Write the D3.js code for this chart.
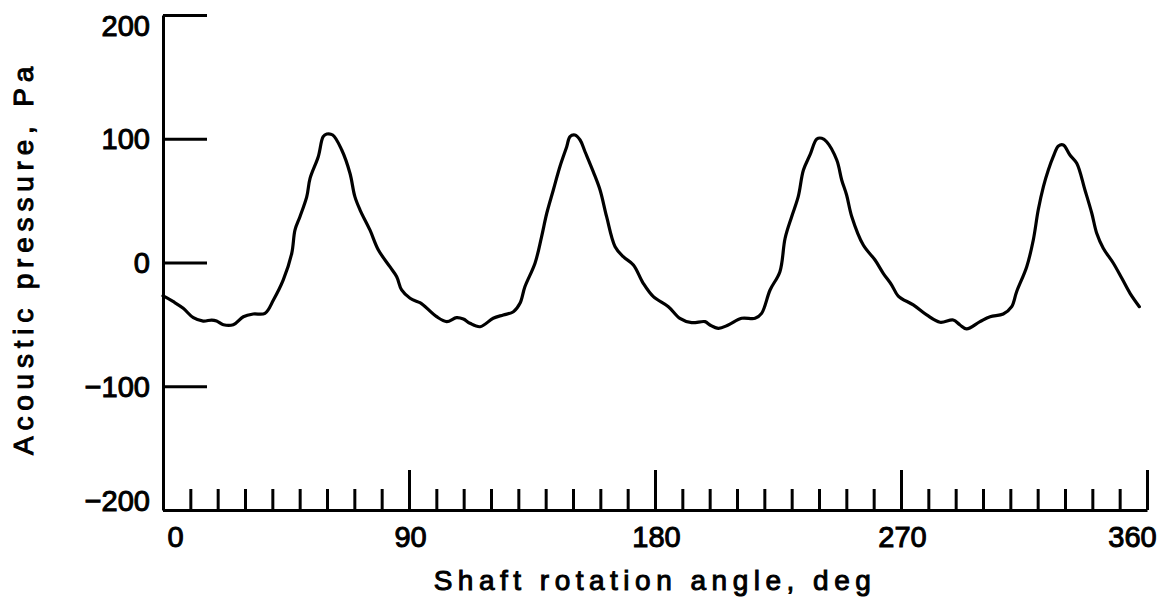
<!DOCTYPE html>
<html>
<head>
<meta charset="utf-8">
<script src="https://cdn.jsdelivr.net/npm/d3@7"></script>
<style>
    body { margin: 0; background: #fff; }
    svg { display: block; }
    .axis path, .axis line { stroke: #000; stroke-width: 3; }
    .axis text, .title { font-family: "Liberation Sans", Arial, sans-serif; fill: #000; stroke: #000; stroke-width: 1; }
</style>
</head>
<body>
<script>
// shaft angle (deg) and acoustic pressure (Pa)
var angle = [0, 0.6, 3.8, 7.4, 11.1, 14.7, 17.8, 19.6, 22.1, 25.7, 29.4, 33.0, 37.3, 40.4, 44.0, 47.1, 48.3, 50.1, 52.6, 53.8, 56.8, 58.6, 59.9, 62.1, 65.4, 68.4, 70.2, 72.1, 75.7, 78.8, 83.0, 85.5, 87.3, 90.4, 94.0,
    95.2, 100.1, 103.8, 107.4, 109.9, 112.3, 116.0, 120.8, 124.5, 128.2, 130.6, 132.4, 136.1, 138.5, 140.4, 142.8, 145.2, 147.7, 148.9, 150.7, 152.6, 154.4, 157.4, 159.9, 162.3, 165.4, 168.4, 172.1, 175.7, 179.4, 184.9,
    189.1, 193.4, 198.3, 200.1, 203.2, 206.8, 211.7, 216.6, 219.0, 222.1, 225.7, 227.6, 230.0, 232.4, 234.3, 236.7, 239.2, 241.0, 242.8, 246.5, 248.3, 250.1, 252.0, 256.2, 260.5, 263.5, 266.6, 269.0, 274.5,
    279.4, 284.3, 289.1, 291.6, 294.0, 298.9, 302.6, 307.4, 310.5, 312.3, 316.0, 318.4, 320.2, 322.1, 323.9, 325.7, 327.6, 329.4, 331.8, 334.3, 337.3, 339.8, 341.6, 344.0, 347.7, 350.8, 353.8, 357.2];
var pressure = [-27, -27.6, -31.7, -37.0, -44.6, -47.3, -46.5, -47.3, -50.3, -50.3, -43.8, -41.6, -41.1, -30.3, -14.1, 7.4, 26.3, 37.0, 53.2, 68.0, 85.5, 101.7, 103.8, 103.0, 90.9, 72.1, 53.2, 42.4, 26.3, 10.1, -3.4, -11.5, -22.2, -28.9, -32.5,
    -34.3, -43.8, -47.8, -44.6, -45.7, -49.1, -51.9, -45.1, -42.4, -39.8, -33.0, -19.6, -0.6, 20.8, 39.8, 58.6, 77.4, 93.6, 101.7, 103.0, 99.0, 89.5, 73.4, 58.6, 37.0, 12.8, 4.7, -2.0, -16.8, -27.6, -35.7,
    -45.1, -48.6, -47.8, -50.5, -53.2, -50.5, -45.1, -45.1, -41.1, -22.2, -7.4, 19.6, 37.0, 53.2, 74.7, 86.9, 99.8, 100.4, 97.6, 82.8, 66.7, 54.5, 37.0, 14.1, 2.0, -8.7, -18.2, -27.1, -34.3,
    -42.4, -48.3, -46.5, -50.5, -53.7, -47.8, -43.8, -41.6, -35.7, -23.6, -3.4, 18.2, 42.4, 61.3, 74.7, 85.5, 94.1, 94.9, 86.9, 80.2, 58.6, 39.8, 23.6, 11.5, -0.6, -12.8, -24.9, -35.7];

var x_ticks = [0, 90, 180, 270, 360];
var x_minor = d3.range(10, 360, 10);
var y_ticks = [-200, -100, 0, 100, 200];

var width = 1173;
var height = 603;
var plot_left = 163, plot_right = 1147, plot_top = 15, plot_bottom = 510;

var svg = d3.select('body').append('svg')
    .attr('width', width)
    .attr('height', height);

var x = d3.scaleLinear().domain([0, 360]).range([plot_left, plot_right]);
var y = d3.scaleLinear().domain([-200, 200]).range([plot_bottom, plot_top]);

// y axis, ticks pointing into the plot
var y_axis = svg.append('g')
    .attr('class', 'axis')
    .attr('transform', 'translate(' + plot_left + ',0)')
    .call(d3.axisLeft(y).tickValues(y_ticks).tickSizeInner(-44).tickSizeOuter(0).tickPadding(13));
y_axis.selectAll('text')
    .style('font-size', '29px')
    .attr('dy', function (d) {
        if (d === 200) return '0.7em';
        if (d === -200) return '0em';
        return '0.34em';
    });

// x axis: minor ticks
svg.append('g')
    .attr('class', 'axis')
    .attr('transform', 'translate(0,' + plot_bottom + ')')
    .call(d3.axisTop(x).tickValues(x_minor).tickSize(21).tickFormat(''))
    .select('.domain').remove();

// x axis: major ticks and line
svg.append('g')
    .attr('class', 'axis')
    .attr('transform', 'translate(0,' + plot_bottom + ')')
    .call(d3.axisTop(x).tickValues(x_ticks.slice(1)).tickSizeInner(40).tickSizeOuter(0).tickFormat(''));

// x labels
var x_labels = svg.append('g')
    .attr('class', 'axis')
    .attr('transform', 'translate(0,' + plot_bottom + ')')
    .call(d3.axisBottom(x).tickValues(x_ticks).tickSize(0).tickPadding(16));
x_labels.select('.domain').remove();
x_labels.selectAll('text')
    .style('font-size', '29px')
    .attr('dx', function (d) {
        if (d === 0) return 12;
        if (d === 360) return -15;
        return 1;
    });

// the trace
var line = d3.line()
    .x(function (d, i) { return x(angle[i]); })
    .y(function (d) { return y(d); })
    .curve(d3.curveCatmullRom.alpha(0.5));

svg.append('path')
    .datum(pressure)
    .attr('d', line)
    .attr('fill', 'none')
    .attr('stroke', '#000')
    .attr('stroke-width', 3.2)
    .attr('stroke-linejoin', 'round')
    .attr('stroke-linecap', 'round');

// axis titles
svg.append('text')
    .attr('class', 'title')
    .attr('x', 655)
    .attr('y', 590)
    .attr('text-anchor', 'middle')
    .style('font-size', '28px')
    .style('letter-spacing', '5.5px')
    .text('Shaft rotation angle, deg');

svg.append('text')
    .attr('class', 'title')
    .attr('transform', 'translate(33,258) rotate(-90)')
    .attr('text-anchor', 'middle')
    .style('font-size', '28px')
    .style('letter-spacing', '5.8px')
    .text('Acoustic pressure, Pa');
</script>
</body>
</html>
